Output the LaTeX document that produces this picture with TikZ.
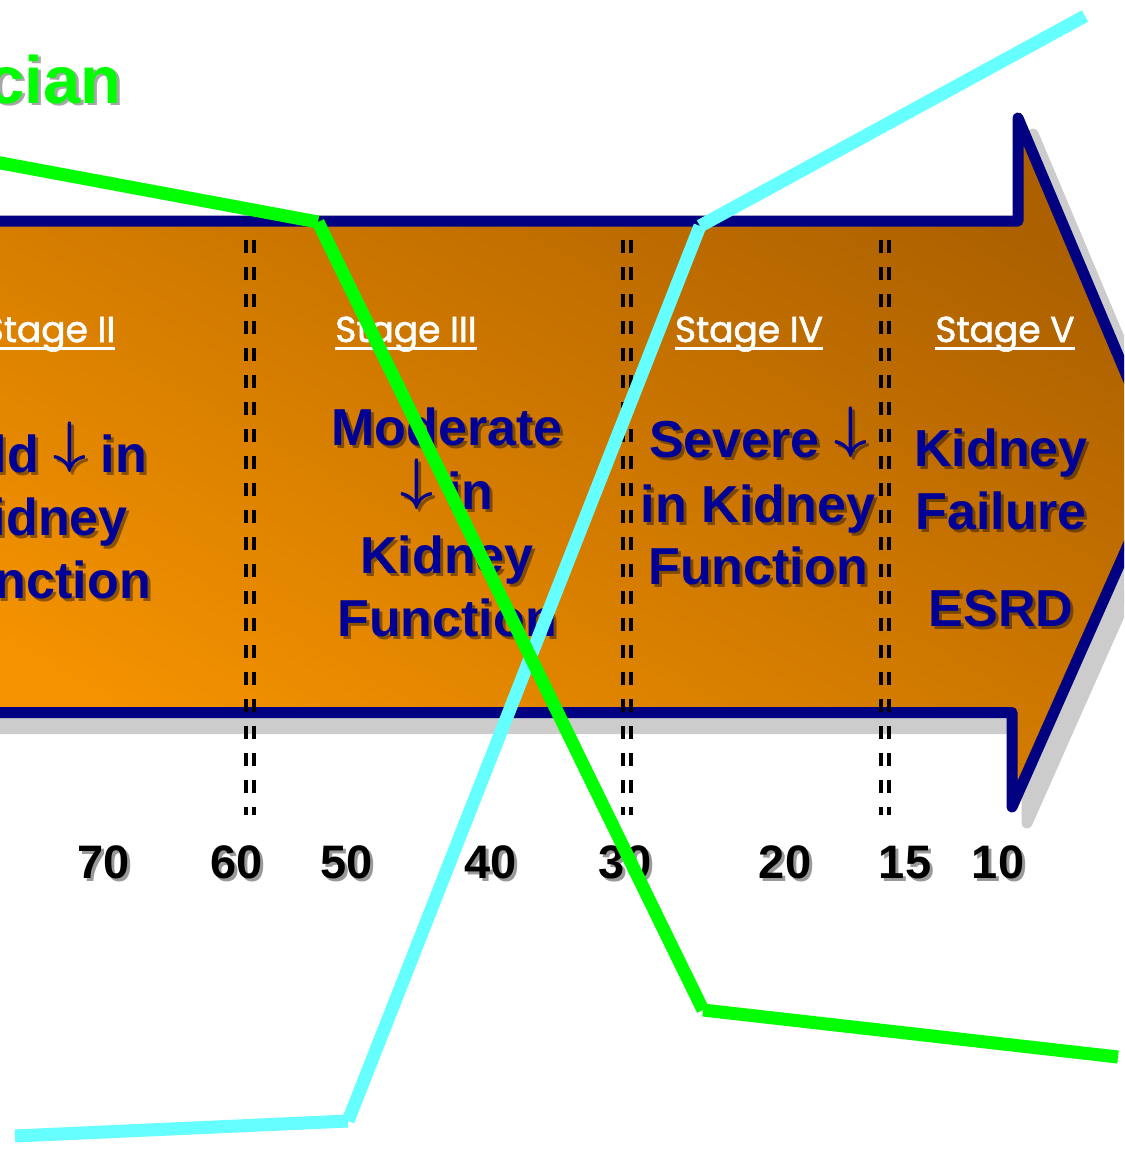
\documentclass[tikz,border=0pt]{standalone}
\usepackage{graphicx}
\usepackage{fontspec}
\newfontfamily\arial{Liberation Sans}
\newfontfamily\hdrfont{Poppins}[FakeBold=1.6]
\definecolor{arrnavy}{RGB}{0,0,128}
\definecolor{txtnavy}{RGB}{0,0,150}
\definecolor{shadowgray}{RGB}{204,204,204}
\definecolor{darkorange}{RGB}{172,96,0}
\definecolor{lightorange}{RGB}{244,146,0}
\definecolor{grn}{RGB}{0,255,0}
\definecolor{cyn}{RGB}{102,255,255}
\newcommand{\dnarr}{\raisebox{11pt}{\scalebox{5.7}{\fontsize{10}{12}\selectfont\boldmath$\downarrow$}}}
\tikzset{
  bodytxt/.style={anchor=base, inner sep=0pt, text=txtnavy, font=\arial\bfseries\fontsize{52}{63}\selectfont},
  bodyshd/.style={anchor=base, inner sep=0pt, text=black, text opacity=0.4, font=\arial\bfseries\fontsize{52}{63}\selectfont},
  numtxt/.style={anchor=base, inner sep=0pt, text=black, font=\arial\bfseries\fontsize{47}{50}\selectfont},
  numshd/.style={anchor=base, inner sep=0pt, text=black!40, font=\arial\bfseries\fontsize{47}{50}\selectfont},
  hdr/.style={anchor=base, inner sep=0pt, text=white, font=\hdrfont\fontsize{36}{40}\selectfont},
  uline/.style={draw=white, line width=3pt},
  sepline/.style={draw=black, line width=4pt, dash pattern=on 13pt off 14pt},
  grnline/.style={draw=grn, line width=13pt, line cap=butt},
  cynline/.style={draw=cyn, line width=13pt, line cap=butt},
}
\newcommand{\btext}[4]{%
  \node[bodyshd] (#1s) at (#2+3,#3+3) {#4};
  \node[bodytxt] (#1) at (#2,#3) {#4};}
\newcommand{\ntext}[4]{%
  \node[numshd] (#1s) at (#2+3,#3+3) {#4};
  \node[numtxt] (#1) at (#2,#3) {#4};}
\begin{document}
\begin{tikzpicture}[x=1pt,y=-1pt]
\useasboundingbox (0,0) rectangle (1124,1153);
\clip (0,0) rectangle (1124,1153);
% title fragment
\node[anchor=base east, inner sep=0pt, text=black!35, font=\arial\bfseries\fontsize{67}{70}\selectfont] (titles) at (125,106) {cian};
\node[anchor=base east, inner sep=0pt, text=grn, font=\arial\bfseries\fontsize{67}{70}\selectfont] (title) at (122,103) {cian};
% arrow shadow
\begin{scope}[shift={(15,16)}]
\filldraw[fill=shadowgray, draw=shadowgray, line width=11pt, line join=round]
  (-30,221) -- (1018,221) -- (1018,118) -- (1164,464) -- (1012,807) -- (1012,712.5) -- (-30,712.5) -- cycle;
\end{scope}
% arrow body
\shade[top color=darkorange, bottom color=lightorange, shading angle=-30]
  (-30,221) -- (1018,221) -- (1018,118) -- (1164,464) -- (1012,807) -- (1012,712.5) -- (-30,712.5) -- cycle;
\draw[arrnavy, line width=11pt, line join=round]
  (-30,221) -- (1018,221) -- (1018,118) -- (1164,464) -- (1012,807) -- (1012,712.5) -- (-30,712.5) -- cycle;
% separators
\foreach \xx in {246,254,623,631,881,889} {
  \draw[sepline] (\xx,240) -- (\xx,815);
}
% stage headers
\node[hdr] (h2) at (49,342) {Stage II};
\node[hdr] (h3) at (406,342) {Stage III};
\node[hdr] (h4) at (749,342) {Stage IV};
\node[hdr] (h5) at (1005,342) {Stage V};
\foreach \h in {h2,h3,h4,h5} {
  \draw[uline] ([yshift=-6pt]\h.base west) -- ([yshift=-6pt]\h.base east);
}
% stage II
\btext{s2a}{41}{472}{Mild \dnarr{} in}
\btext{s2b}{41}{535}{Kidney}
\btext{s2c}{41}{598}{Function}
% stage III
\btext{s3a}{447}{445}{Moderate}
\btext{s3b}{447}{509}{\dnarr{} in}
\btext{s3c}{447}{573}{Kidney}
\btext{s3d}{447}{636}{Function}
% stage IV
\btext{s4a}{758}{457}{Severe \dnarr}
\btext{s4b}{758}{522}{in Kidney}
\btext{s4c}{758}{584}{Function}
% stage V
\btext{s5a}{1001}{466}{Kidney}
\btext{s5b}{1001}{529}{Failure}
\btext{s5c}{1001}{626}{ESRD}
% numbers
\ntext{n70}{104}{878}{70}
\ntext{n60}{237}{878}{60}
\ntext{n50}{347}{878}{50}
\ntext{n40}{491}{878}{40}
\ntext{n30}{625}{878}{30}
\ntext{n20}{785}{878}{20}
\ntext{n15}{905}{878}{15}
\ntext{n10}{998}{878}{10}
% curves
\coordinate (c0) at (15,1136);
\coordinate (c1) at (348,1121);
\coordinate (c2) at (700,226);
\coordinate (c3) at (1085,16);
\draw[cynline] (c0) -- (c1);
\draw[cynline] (c1) -- (c2);
\draw[cynline] (c2) -- (c3);
\coordinate (g0) at (-10,161);
\coordinate (g1) at (318,222);
\coordinate (g2) at (703,1010);
\coordinate (g3) at (1118,1057);
\draw[grnline] (g0) -- (g1);
\draw[grnline] (g1) -- (g2);
\draw[grnline] (g2) -- (g3);
\end{tikzpicture}
\end{document}
